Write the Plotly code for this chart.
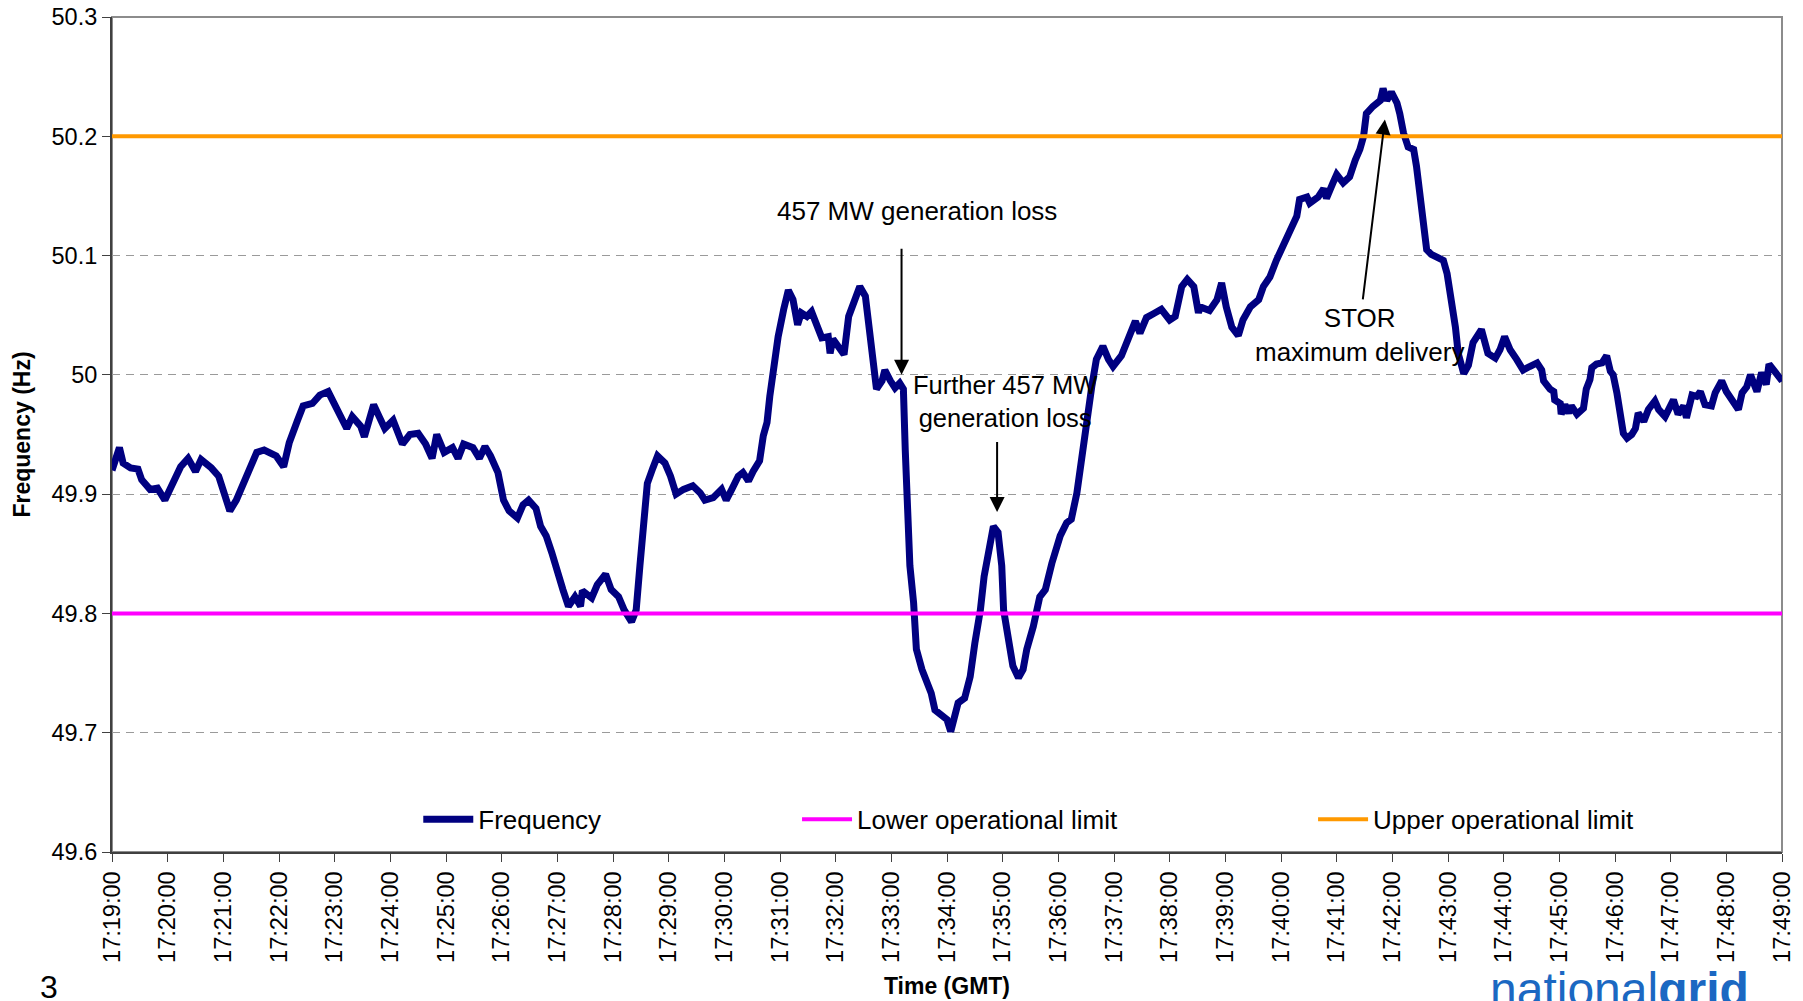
import pandas as pd
import plotly.graph_objects as go

# frequency trace: seconds after 17:19:00 and Hz
secs = [
    0, 3, 8, 12, 20, 28, 32, 41, 49, 57, 65, 74, 82, 90, 96, 107, 115, 123, 127, 134,
    142, 148, 156, 164, 177, 185, 191, 200, 206, 216, 224, 233, 239, 245, 253, 259, 268, 272, 276, 282,
    288, 294, 303, 313, 321, 330, 338, 345, 350, 358, 367, 373, 379, 389, 396, 402, 408, 416, 422, 428,
    437, 443, 449, 457, 462, 468, 474, 480, 486, 492, 499, 505, 507, 517, 523, 532, 538, 546, 552, 560,
    565, 569, 573, 577, 583, 588, 596, 602, 608, 616, 626,
    634, 639, 648, 657, 662, 668, 675, 680, 686, 691, 698, 702, 706, 709, 713, 718, 724, 729, 734, 739,
    743, 749, 754, 760, 765, 772, 774, 777, 785, 789, 794, 799, 806, 812, 815, 819, 821, 824, 830, 833,
    839, 844, 849, 853, 855, 857, 860, 864, 867, 873, 878, 883, 887, 894, 900, 904, 909, 912, 919, 925,
    930, 936, 940, 945, 950, 955, 959, 961, 966, 971, 977, 982, 986, 993, 1000, 1006, 1013, 1022, 1029, 1034,
    1040, 1045, 1051, 1056, 1061, 1068, 1074, 1079, 1088, 1095, 1103, 1108, 1115, 1122, 1131, 1140, 1146, 1153, 1159, 1166,
    1171, 1173, 1183, 1191, 1196, 1201, 1207, 1214, 1219, 1227, 1236, 1241, 1248, 1255, 1262, 1270, 1277, 1280, 1288, 1291,
    1300, 1306, 1309, 1316, 1320, 1327, 1334, 1340, 1345, 1349, 1352, 1359, 1367, 1370, 1374, 1379, 1385, 1388, 1392, 1397,
    1403, 1406, 1410, 1413, 1417, 1422, 1430, 1435, 1439, 1444, 1448, 1451, 1457, 1462, 1467, 1476, 1483, 1491, 1496, 1501,
    1507, 1514, 1521, 1528, 1536, 1541, 1543, 1550, 1554, 1555, 1561, 1562, 1566, 1570, 1573, 1579, 1586, 1589, 1593, 1595,
    1600, 1606, 1611, 1615, 1618, 1622, 1625, 1629, 1633, 1638, 1642, 1645, 1651, 1656, 1663, 1667, 1674, 1679, 1683, 1688,
    1694, 1697, 1703, 1708, 1712, 1717, 1724, 1728, 1735, 1740, 1746, 1753, 1757, 1762, 1766, 1773, 1778, 1783, 1786, 1792,
    1798, 1800,
]
freq = [
    49.920, 49.928, 49.939, 49.926, 49.922, 49.921, 49.912, 49.904, 49.905, 49.895, 49.907, 49.923, 49.930, 49.919, 49.929, 49.922, 49.915, 49.893, 49.886, 49.895,
    49.909, 49.921, 49.935, 49.937, 49.932, 49.923, 49.943, 49.962, 49.974, 49.976, 49.983, 49.986, 49.976, 49.967, 49.955, 49.965, 49.957, 49.948, 49.960, 49.975,
    49.965, 49.955, 49.962, 49.942, 49.950, 49.951, 49.942, 49.930, 49.950, 49.935, 49.939, 49.930, 49.942, 49.939, 49.930, 49.940, 49.932, 49.918, 49.895, 49.886,
    49.880, 49.891, 49.895, 49.888, 49.873, 49.865, 49.851, 49.834, 49.820, 49.806, 49.814, 49.806, 49.819, 49.813, 49.824, 49.833, 49.820, 49.814, 49.803, 49.793,
    49.803, 49.840, 49.879, 49.909, 49.922, 49.932, 49.926, 49.915, 49.900, 49.904, 49.907,
    49.901, 49.895, 49.897, 49.904, 49.895, 49.904, 49.915, 49.918, 49.911, 49.919, 49.928, 49.949, 49.960, 49.982, 50.007, 50.032, 50.055, 50.071, 50.063, 50.042,
    50.052, 50.049, 50.053, 50.039, 50.031, 50.032, 50.018, 50.030, 50.021, 50.017, 50.049, 50.060, 50.074, 50.066, 50.044, 50.021, 49.999, 49.988, 49.995, 50.004,
    49.995, 49.989, 49.993, 49.988, 49.937, 49.881, 49.840, 49.809, 49.770, 49.753, 49.742, 49.733, 49.719, 49.715, 49.711, 49.701, 49.714, 49.725, 49.729, 49.747,
    49.775, 49.803, 49.831, 49.854, 49.873, 49.868, 49.840, 49.803, 49.775, 49.756, 49.746, 49.753, 49.770, 49.789, 49.814, 49.820, 49.842, 49.865, 49.876, 49.879,
    49.901, 49.932, 49.962, 49.990, 50.013, 50.024, 50.013, 50.007, 50.016, 50.031, 50.045, 50.035, 50.048, 50.051, 50.055, 50.046, 50.049, 50.074, 50.080, 50.074,
    50.052, 50.057, 50.054, 50.063, 50.077, 50.057, 50.040, 50.033, 50.046, 50.057, 50.063, 50.074, 50.082, 50.096, 50.108, 50.119, 50.133, 50.147, 50.149, 50.144,
    50.149, 50.156, 50.148, 50.161, 50.168, 50.161, 50.166, 50.180, 50.189, 50.200, 50.219, 50.225, 50.230, 50.240, 50.230, 50.237, 50.228, 50.219, 50.203, 50.191,
    50.189, 50.175, 50.147, 50.124, 50.105, 50.101, 50.098, 50.096, 50.085, 50.063, 50.040, 50.018, 50.001, 50.008, 50.027, 50.038, 50.018, 50.014, 50.021, 50.032,
    50.021, 50.013, 50.004, 50.007, 50.010, 50.004, 49.995, 49.988, 49.986, 49.979, 49.976, 49.967, 49.975, 49.968, 49.974, 49.967, 49.972, 49.988, 49.996, 50.006,
    50.009, 50.010, 50.016, 50.003, 50.000, 49.985, 49.968, 49.951, 49.947, 49.950, 49.955, 49.968, 49.961, 49.971, 49.978, 49.971, 49.965, 49.972, 49.979, 49.967,
    49.974, 49.964, 49.983, 49.982, 49.986, 49.975, 49.974, 49.985, 49.995, 49.986, 49.978, 49.971, 49.985, 49.990, 50.000, 49.986, 50.002, 49.992, 50.009, 50.003,
    49.997, 49.998,
]

lower_limit = 49.8
upper_limit = 50.2

y_ticks = [49.6, 49.7, 49.8, 49.9, 50.0, 50.1, 50.2, 50.3]
y_labels = ["49.6", "49.7", "49.8", "49.9", "50", "50.1", "50.2", "50.3"]

start = pd.Timestamp("2000-01-01 17:19:00")
end = pd.Timestamp("2000-01-01 17:49:00")
times = [start + pd.Timedelta(seconds=s) for s in secs]


def at(hms):
    return "2000-01-01 " + hms


FONT = "Arial, Liberation Sans, sans-serif"

fig = go.Figure()

fig.add_trace(go.Scatter(x=times, y=freq, mode="lines", name="Frequency",
                         line=dict(color="#000080", width=7), legend="legend"))
fig.add_trace(go.Scatter(x=[start, end], y=[lower_limit, lower_limit], mode="lines",
                         name="Lower operational limit",
                         line=dict(color="#ff00ff", width=4), legend="legend2"))
fig.add_trace(go.Scatter(x=[start, end], y=[upper_limit, upper_limit], mode="lines",
                         name="Upper operational limit",
                         line=dict(color="#ff9900", width=4), legend="legend3"))

# plot area frame (Excel style grey border)
fig.add_shape(type="rect", xref="paper", yref="paper", x0=0, y0=0, x1=1, y1=1,
              line=dict(color="#8c8c8c", width=2), layer="below")

arrow = dict(text="", showarrow=True, arrowhead=2, arrowsize=1.5, arrowwidth=2,
             arrowcolor="black", axref="x", ayref="y", xref="x", yref="y")
fig.add_annotation(x=at("17:33:11"), y=50.0, ax=at("17:33:11"), ay=50.107, **arrow)
fig.add_annotation(x=at("17:34:54"), y=49.885, ax=at("17:34:54"), ay=49.945, **arrow)
fig.add_annotation(x=at("17:41:52"), y=50.214, ax=at("17:41:28"), ay=50.062, **arrow)

label = dict(showarrow=False, xref="x", yref="y")
fig.add_annotation(x=at("17:33:28"), y=50.137, text="457 MW generation loss",
                   font=dict(size=26, color="black", family=FONT), **label)
fig.add_annotation(x=at("17:35:02"), y=49.978, text="Further 457 MW<br>generation loss",
                   font=dict(size=25.5, color="black", family=FONT), **label)
fig.add_annotation(x=at("17:41:25"), y=50.033, text="STOR<br>maximum delivery",
                   font=dict(size=26, color="black", family=FONT), **label)

fig.add_annotation(x=-0.038, y=-0.138, xref="paper", yref="paper", xanchor="center", yanchor="top",
                   text="3", showarrow=False, font=dict(size=32, color="black", family=FONT))
fig.add_annotation(x=0.9025, y=-0.130, xref="paper", yref="paper", xanchor="center", yanchor="top",
                   text="national<b>grid</b>", showarrow=False,
                   font=dict(size=48, color="#1b68c2", family=FONT))

legend_style = dict(orientation="h", yanchor="middle", y=0.039, xanchor="left",
                    bgcolor="rgba(0,0,0,0)", itemwidth=50,
                    font=dict(size=26, color="black", family=FONT))

fig.update_layout(
    width=1803,
    height=1001,
    margin=dict(l=112, r=21, t=17, b=149, autoexpand=False),
    paper_bgcolor="white",
    plot_bgcolor="white",
    font=dict(family=FONT, size=23.5, color="black"),
    showlegend=True,
    legend=dict(x=0.1834, **legend_style),
    legend2=dict(x=0.4102, **legend_style),
    legend3=dict(x=0.7192, **legend_style),
    xaxis=dict(
        type="date",
        range=[start, end],
        tick0=start,
        dtick=60000,
        tickformat="%H:%M:%S",
        tickangle=-90,
        ticks="outside",
        ticklen=8,
        tickcolor="#404040",
        showline=True,
        linecolor="#404040",
        linewidth=2,
        showgrid=False,
        automargin=False,
        title=dict(text="Time (GMT)", font=dict(size=23, weight="bold"), standoff=16),
    ),
    yaxis=dict(
        range=[49.6, 50.3],
        tickvals=y_ticks,
        ticktext=y_labels,
        ticks="outside",
        ticklen=8,
        tickcolor="#404040",
        showline=True,
        linecolor="#404040",
        linewidth=2,
        showgrid=True,
        gridcolor="#9a9a9a",
        gridwidth=1,
        griddash="8px,6px",
        zeroline=False,
        automargin=False,
        title=dict(text="Frequency (Hz)", font=dict(size=23, weight="bold"), standoff=14),
    ),
)

fig.write_html("out.html", config={"displayModeBar": False},
               post_script="document.body.style.margin='0';document.body.style.overflow='hidden';")
